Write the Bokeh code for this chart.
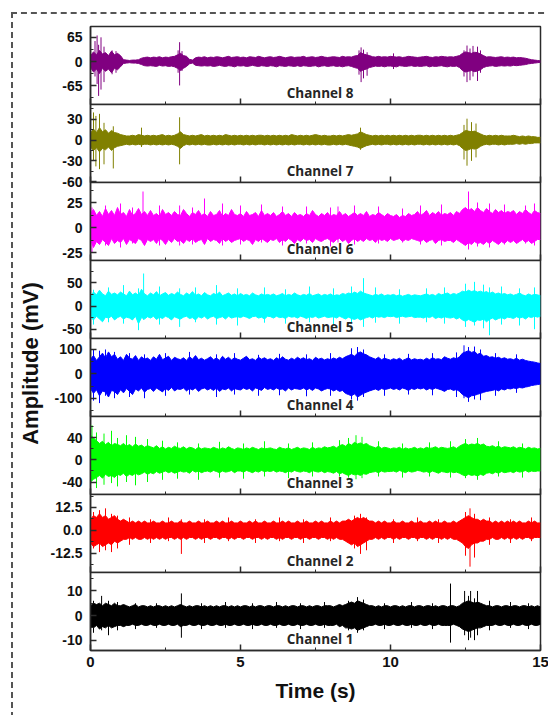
import numpy as np
from bokeh.plotting import figure
from bokeh.layouts import row, column
from bokeh.models import Range1d, FixedTicker, Label
from bokeh.embed import file_html
from bokeh.resources import INLINE

# time grid of the read envelopes (0.1 s bins)
time_s = np.round(np.arange(0, 151) * 0.1, 1)

# ---------------- Channel 8 ----------------
ch8_hi = [16, 26, 18, 30, 20, 24, 16, 28, 18, 22,
          16, 5, 4, 3, 4, 4, 5, 9, 11, 12,
          10, 12, 11, 13, 10, 12, 11, 13, 14, 18,
          22, 16, 14, 6, 4, 10, 12, 11, 13, 10,
          12, 11, 13, 12, 10, 12, 14, 11, 12, 13,
          11, 12, 10, 13, 12, 11, 14, 12, 10, 12,
          13, 11, 12, 14, 12, 10, 12, 13, 11, 12,
          12, 14, 11, 12, 13, 11, 12, 14, 12, 11,
          12, 13, 12, 11, 14, 12, 13, 12, 15, 16,
          24, 20, 18, 16, 13, 12, 14, 12, 13, 12,
          14, 13, 12, 13, 11, 12, 14, 13, 12, 11,
          12, 13, 14, 12, 11, 13, 12, 14, 13, 12,
          13, 12, 14, 16, 22, 26, 24, 22, 25, 24,
          20, 16, 12, 13, 12, 11, 12, 13, 11, 12,
          11, 12, 10, 11, 10, 9, 7, 5, 4, 3,
          2]
ch8_lo = [-16, -28, -20, -32, -18, -26, -20, -30, -18, -22,
          -14, -5, -4, -3, -4, -4, -5, -8, -11, -12,
          -11, -12, -13, -10, -12, -11, -13, -12, -14, -18,
          -24, -18, -13, -6, -4, -10, -11, -12, -11, -12,
          -11, -13, -12, -10, -12, -13, -11, -12, -14, -11,
          -12, -11, -13, -12, -10, -12, -13, -11, -12, -13,
          -11, -12, -14, -11, -12, -13, -11, -12, -13, -11,
          -13, -11, -12, -13, -12, -11, -14, -12, -11, -13,
          -12, -11, -13, -12, -14, -12, -11, -13, -16, -18,
          -26, -22, -20, -16, -14, -12, -13, -12, -14, -12,
          -12, -13, -14, -11, -12, -13, -12, -11, -13, -12,
          -13, -12, -11, -14, -12, -13, -12, -11, -13, -14,
          -12, -13, -12, -16, -24, -28, -26, -24, -27, -25,
          -22, -16, -13, -12, -11, -13, -12, -11, -12, -11,
          -12, -10, -11, -10, -9, -8, -6, -5, -4, -3,
          -2]
ch8_spike_t = [0.15, 0.22, 0.27, 0.35, 0.45, 0.72, 0.85, 2.92, 2.97, 3.05,
               8.95, 9.02, 9.1, 9.22, 10.1, 12.45, 12.55, 12.65, 12.75, 12.9, 13.0]
ch8_spike_top = [55, 70, 45, 65, 40, 30, 28, 30, 52, 28,
                 30, 38, 32, 25, 22, 30, 43, 35, 42, 40, 30]
ch8_spike_bot = [-40, -60, -92, -75, -55, -34, -30, -30, -64, -25,
                 -35, -55, -45, -38, -20, -40, -55, -50, -40, -52, -30]

# ---------------- Channel 7 ----------------
ch7_hi = [10, 16, 11, 18, 12, 15, 10, 14, 11, 10,
          8, 7, 6, 6, 7, 6, 8, 7, 6, 7,
          6, 7, 6, 7, 8, 6, 7, 6, 7, 9,
          12, 8, 7, 6, 7, 6, 7, 8, 6, 7,
          6, 7, 6, 7, 6, 8, 7, 6, 7, 6,
          7, 6, 7, 6, 7, 6, 7, 7, 6, 7,
          6, 7, 6, 7, 6, 7, 6, 8, 7, 6,
          7, 6, 7, 6, 7, 8, 7, 6, 7, 6,
          6, 7, 6, 7, 6, 7, 8, 7, 8, 9,
          12, 10, 8, 7, 6, 7, 6, 7, 6, 7,
          6, 7, 6, 7, 6, 7, 6, 7, 6, 7,
          7, 6, 7, 6, 7, 6, 7, 6, 7, 6,
          7, 6, 7, 8, 11, 14, 13, 12, 13, 11,
          9, 7, 6, 7, 6, 7, 6, 7, 6, 6,
          6, 7, 6, 5, 6, 5, 6, 5, 5, 4,
          4]
ch7_lo = [-10, -15, -11, -17, -12, -14, -10, -15, -11, -9,
          -8, -7, -6, -7, -6, -7, -6, -7, -6, -6,
          -7, -6, -7, -6, -7, -6, -7, -6, -7, -9,
          -12, -8, -6, -7, -6, -7, -6, -7, -6, -7,
          -7, -6, -7, -6, -7, -6, -7, -6, -7, -6,
          -6, -7, -6, -7, -6, -7, -6, -6, -7, -6,
          -7, -6, -7, -6, -7, -6, -7, -6, -7, -6,
          -6, -7, -6, -7, -6, -7, -6, -7, -6, -7,
          -7, -6, -7, -6, -7, -6, -7, -8, -9, -10,
          -12, -10, -8, -7, -6, -7, -6, -7, -6, -6,
          -7, -6, -7, -6, -7, -6, -7, -6, -7, -6,
          -6, -7, -6, -7, -6, -7, -6, -7, -6, -7,
          -6, -7, -6, -8, -12, -15, -14, -12, -13, -12,
          -9, -7, -6, -7, -6, -6, -7, -6, -7, -6,
          -6, -6, -5, -6, -5, -6, -5, -5, -4, -4,
          -4]
ch7_spike_t = [0.1, 0.18, 0.3, 0.45, 0.76, 1.7, 2.97, 9.0, 12.45, 12.55, 12.7, 12.85]
ch7_spike_top = [40, 35, 38, 25, 20, 18, 33, 18, 22, 31, 26, 24]
ch7_spike_bot = [-30, -38, -42, -35, -41, -10, -35, -14, -28, -37, -30, -25]

# ---------------- Channel 6 ----------------
ch6_hi = [14, 18, 12, 16, 11, 19, 13, 17, 12, 20,
          13, 15, 11, 18, 12, 14, 19, 13, 16, 12,
          17, 12, 14, 11, 18, 13, 15, 12, 16, 13,
          12, 18, 14, 11, 15, 13, 17, 12, 14, 11,
          16, 12, 13, 17, 11, 14, 12, 18, 13, 12,
          14, 11, 16, 12, 13, 15, 11, 17, 12, 14,
          12, 15, 11, 13, 16, 12, 14, 11, 15, 12,
          13, 11, 14, 12, 17, 13, 11, 14, 12, 15,
          11, 13, 12, 16, 12, 14, 11, 13, 15, 12,
          14, 12, 16, 11, 13, 12, 15, 13, 11, 14,
          12, 11, 13, 10, 12, 11, 14, 12, 13, 16,
          12, 14, 17, 12, 15, 13, 16, 12, 14, 13,
          15, 12, 16, 14, 18, 20, 17, 19, 16, 20,
          17, 15, 19, 16, 14, 18, 15, 17, 14, 16,
          15, 17, 13, 16, 14, 18, 15, 13, 17, 15,
          14]
ch6_lo = [-12, -20, -14, -17, -12, -15, -18, -11, -16, -13,
          -15, -11, -17, -12, -14, -16, -11, -13, -18, -12,
          -14, -12, -16, -11, -13, -17, -12, -15, -11, -14,
          -13, -16, -12, -14, -11, -15, -13, -12, -17, -11,
          -14, -12, -13, -16, -11, -14, -12, -15, -13, -12,
          -11, -14, -12, -13, -17, -12, -14, -11, -13, -15,
          -12, -13, -11, -15, -12, -14, -11, -13, -16, -12,
          -14, -11, -13, -12, -15, -11, -13, -14, -12, -11,
          -13, -15, -12, -11, -14, -12, -16, -13, -11, -14,
          -12, -14, -11, -13, -12, -15, -11, -13, -12, -14,
          -11, -13, -12, -11, -14, -12, -13, -11, -12, -13,
          -14, -12, -15, -13, -12, -16, -13, -12, -14, -13,
          -13, -15, -12, -14, -16, -18, -15, -17, -14, -16,
          -15, -17, -14, -16, -13, -15, -17, -14, -16, -13,
          -15, -13, -16, -14, -12, -15, -13, -16, -14, -12,
          -12]
ch6_spike_t = [0.05, 0.5, 1.0, 1.4, 1.75, 2.3, 2.97, 3.4, 3.8, 4.4, 5.0, 5.7, 6.4,
               7.2, 8.0, 8.25, 8.8, 9.6, 10.4, 11.0, 11.7, 12.6, 12.9, 13.3, 13.8, 14.5, 14.8]
ch6_spike_top = [20, 22, 24, 20, 36, 22, 22, 20, 29, 24, 22, 23, 21,
                 21, 20, 21, 22, 21, 19, 22, 23, 36, 25, 24, 23, 22, 24]
ch6_spike_bot = [-25, -18, -20, -16, -15, -18, -18, -17, -16, -18, -17, -15, -18,
                 -16, -19, -15, -17, -16, -15, -17, -18, -22, -19, -20, -17, -16, -18]

# ---------------- Channel 5 ----------------
ch5_hi = [22, 30, 24, 34, 26, 22, 32, 25, 28, 24,
          30, 26, 22, 32, 24, 28, 23, 36, 26, 22,
          28, 24, 31, 22, 26, 29, 23, 27, 24, 30,
          25, 22, 28, 24, 31, 23, 26, 22, 29, 24,
          22, 27, 24, 30, 22, 25, 28, 23, 26, 22,
          27, 23, 25, 22, 28, 24, 22, 26, 23, 25,
          23, 26, 22, 24, 27, 22, 25, 23, 28, 24,
          22, 25, 23, 27, 22, 24, 26, 22, 25, 23,
          26, 22, 24, 23, 27, 25, 28, 26, 30, 27,
          32, 28, 26, 24, 22, 25, 23, 26, 22, 24,
          23, 25, 22, 24, 21, 23, 25, 22, 24, 23,
          22, 24, 26, 23, 25, 22, 27, 24, 26, 28,
          24, 27, 25, 28, 32, 30, 34, 31, 33, 30,
          32, 29, 31, 27, 30, 26, 28, 25, 27, 24,
          26, 23, 25, 28, 24, 22, 26, 23, 25, 24,
          22]
ch5_lo = [-24, -30, -22, -28, -34, -24, -26, -22, -30, -25,
          -22, -28, -24, -26, -30, -22, -38, -25, -28, -23,
          -26, -22, -29, -24, -27, -22, -25, -30, -23, -26,
          -28, -24, -22, -27, -25, -30, -23, -26, -22, -28,
          -24, -22, -27, -25, -23, -28, -22, -26, -24, -23,
          -25, -22, -24, -27, -23, -22, -26, -24, -28, -22,
          -23, -26, -22, -25, -24, -27, -22, -24, -23, -26,
          -22, -24, -27, -23, -25, -22, -26, -24, -22, -25,
          -24, -23, -26, -22, -25, -28, -24, -27, -29, -26,
          -30, -27, -25, -23, -26, -22, -24, -23, -25, -22,
          -23, -22, -25, -23, -22, -24, -23, -22, -25, -24,
          -24, -26, -23, -25, -22, -27, -24, -26, -23, -25,
          -26, -24, -28, -25, -30, -33, -29, -32, -35, -30,
          -31, -28, -34, -29, -26, -30, -27, -25, -28, -24,
          -25, -27, -23, -26, -24, -28, -23, -25, -22, -24,
          -22]
ch5_spike_t = [0.1, 0.6, 1.1, 1.6, 1.77, 2.3, 2.97, 3.5, 4.2, 4.9, 5.8, 6.5, 7.3, 8.1,
               8.7, 9.1, 9.5, 10.3, 11.2, 11.8, 12.5, 12.8, 13.1, 13.3, 13.7, 14.3, 14.8]
ch5_spike_top = [35, 40, 45, 38, 70, 42, 38, 40, 45, 38, 40, 36, 42, 38,
                 42, 60, 40, 36, 38, 40, 48, 52, 46, 40, 42, 38, 40]
ch5_spike_bot = [-40, -35, -38, -52, -30, -40, -45, -35, -40, -42, -36, -38, -35, -40,
                 -38, -45, -36, -38, -35, -38, -45, -42, -48, -63, -40, -42, -50]

# ---------------- Channel 4 ----------------
ch4_hi = [60, 75, 55, 70, 85, 65, 90, 70, 80, 60,
          70, 55, 80, 65, 60, 75, 55, 70, 60, 65,
          55, 70, 60, 80, 58, 65, 72, 55, 68, 62,
          58, 66, 55, 70, 60, 75, 58, 64, 56, 62,
          70, 58, 65, 55, 72, 60, 68, 57, 66, 60,
          56, 64, 72, 58, 62, 55, 68, 60, 66, 58,
          62, 55, 66, 58, 70, 60, 56, 64, 58, 68,
          60, 66, 58, 62, 55, 68, 60, 64, 57, 62,
          58, 65, 60, 68, 62, 70, 75, 80, 72, 85,
          90, 82, 78, 70, 65, 60, 68, 58, 64, 60,
          56, 62, 58, 64, 55, 60, 66, 57, 62, 58,
          60, 56, 64, 58, 66, 60, 62, 58, 70, 64,
          60, 66, 62, 70, 85, 90, 95, 88, 92, 80,
          85, 72, 75, 68, 70, 64, 68, 62, 66, 60,
          62, 58, 64, 56, 60, 55, 52, 50, 48, 45,
          42]
ch4_lo = [-60, -80, -65, -90, -70, -75, -95, -68, -72, -85,
          -65, -78, -60, -72, -85, -62, -70, -58, -75, -64,
          -60, -72, -58, -66, -74, -60, -68, -56, -70, -62,
          -64, -58, -70, -60, -66, -58, -72, -62, -58, -66,
          -60, -68, -58, -72, -62, -65, -58, -70, -60, -64,
          -66, -58, -64, -60, -70, -58, -62, -68, -56, -64,
          -60, -66, -58, -64, -62, -70, -58, -66, -60, -62,
          -64, -58, -66, -60, -68, -58, -62, -70, -64, -60,
          -62, -70, -64, -72, -68, -80, -85, -90, -82, -95,
          -88, -80, -75, -70, -66, -62, -68, -60, -64, -62,
          -58, -64, -60, -66, -58, -62, -68, -60, -64, -58,
          -62, -58, -66, -60, -64, -58, -62, -66, -72, -64,
          -62, -68, -64, -72, -85, -92, -98, -90, -88, -84,
          -80, -76, -72, -70, -68, -64, -70, -62, -66, -60,
          -62, -58, -60, -56, -58, -54, -52, -48, -46, -44,
          -42]
ch4_spike_t = [0.1, 0.3, 0.5, 0.8, 1.3, 1.8, 2.5, 3.3, 4.2, 4.8, 5.6, 6.3, 7.2, 8.0,
               8.7, 8.9, 9.1, 9.8, 10.6, 11.4, 12.2, 12.45, 12.6, 12.8, 13.0, 13.5, 14.2]
ch4_spike_top = [100, 95, 100, 90, 85, 80, 85, 90, 80, 85, 78, 82, 80, 85,
                 105, 110, 100, 80, 82, 85, 88, 117, 110, 112, 100, 85, 80]
ch4_spike_bot = [-110, -120, -90, -100, -95, -100, -90, -85, -95, -85, -90, -88, -92, -90,
                 -105, -110, -95, -90, -85, -88, -95, -100, -115, -105, -108, -90, -78]

# ---------------- Channel 3 ----------------
ch3_hi = [45, 40, 35, 30, 34, 28, 32, 26, 30, 28,
          26, 30, 25, 28, 24, 29, 25, 27, 23, 26,
          24, 22, 26, 21, 24, 20, 23, 21, 25, 22,
          21, 24, 20, 23, 22, 19, 23, 20, 22, 21,
          20, 23, 21, 19, 22, 20, 24, 21, 19, 22,
          21, 19, 22, 20, 23, 21, 19, 22, 20, 21,
          22, 20, 19, 23, 21, 20, 22, 19, 21, 23,
          20, 22, 21, 19, 23, 20, 22, 21, 24, 22,
          23, 25, 22, 26, 28, 25, 30, 27, 32, 29,
          31, 28, 30, 26, 24, 22, 25, 21, 23, 22,
          20, 22, 21, 23, 19, 22, 20, 21, 23, 20,
          22, 20, 23, 21, 22, 24, 21, 23, 22, 21,
          22, 24, 21, 25, 28, 30, 27, 29, 28, 30,
          27, 29, 25, 24, 26, 23, 25, 22, 24, 23,
          22, 24, 21, 23, 22, 20, 23, 21, 22, 20,
          21]
ch3_lo = [-40, -35, -32, -28, -33, -26, -30, -28, -32, -26,
          -28, -24, -30, -26, -28, -24, -27, -25, -22, -26,
          -23, -25, -21, -24, -22, -20, -23, -21, -24, -22,
          -20, -22, -21, -24, -19, -22, -20, -23, -21, -20,
          -22, -19, -21, -23, -20, -22, -21, -19, -23, -20,
          -20, -22, -19, -21, -23, -20, -22, -19, -21, -20,
          -21, -19, -22, -20, -21, -23, -20, -22, -19, -21,
          -22, -20, -21, -23, -19, -21, -22, -20, -23, -21,
          -22, -24, -21, -25, -23, -26, -28, -25, -27, -26,
          -28, -25, -26, -23, -22, -21, -23, -20, -22, -21,
          -21, -20, -22, -19, -21, -23, -20, -22, -21, -19,
          -20, -22, -21, -23, -20, -22, -24, -21, -22, -23,
          -21, -23, -22, -24, -27, -29, -26, -28, -27, -29,
          -26, -28, -24, -23, -25, -22, -24, -21, -23, -22,
          -21, -23, -20, -22, -21, -19, -22, -20, -21, -20,
          -20]
ch3_spike_t = [0.05, 0.2, 0.45, 0.7, 0.9, 1.2, 1.5, 1.9, 2.4, 2.9, 3.6, 4.3, 5.1, 5.8,
               6.6, 7.4, 8.3, 8.6, 8.85, 9.05, 9.6, 10.4, 11.3, 12.0, 12.5, 12.9, 13.6, 14.4]
ch3_spike_top = [63, 50, 48, 53, 40, 45, 42, 38, 35, 32, 30, 33, 30, 34,
                 30, 32, 36, 40, 45, 42, 34, 30, 32, 34, 38, 40, 34, 30]
ch3_spike_bot = [-35, -51, -45, -42, -48, -40, -46, -40, -36, -34, -36, -32, -34, -30,
                 -33, -30, -30, -32, -35, -33, -30, -32, -30, -32, -33, -36, -30, -32]

# ---------------- Channel 2 ----------------
ch2_hi = [6, 8, 7, 9, 7, 8, 6, 7, 8, 6,
          5, 6, 5, 4, 5, 4, 5, 4, 5, 4,
          4, 5, 4, 4, 5, 4, 4, 5, 4, 4,
          5, 4, 4, 5, 4, 4, 5, 4, 4, 5,
          4, 4, 5, 4, 5, 4, 4, 5, 4, 4,
          5, 4, 4, 5, 4, 5, 4, 4, 5, 4,
          4, 5, 4, 4, 5, 4, 5, 4, 4, 5,
          4, 4, 5, 4, 4, 5, 4, 5, 4, 4,
          5, 4, 5, 4, 5, 5, 6, 5, 6, 7,
          6, 7, 6, 5, 5, 4, 5, 4, 5, 4,
          4, 5, 4, 4, 5, 4, 4, 5, 4, 4,
          5, 4, 4, 5, 4, 5, 4, 4, 5, 4,
          4, 5, 4, 5, 6, 7, 8, 7, 6, 6,
          5, 6, 5, 5, 4, 5, 4, 5, 4, 5,
          4, 5, 4, 5, 4, 4, 5, 4, 5, 4,
          4]
ch2_lo = [-7, -9, -8, -7, -9, -8, -7, -8, -6, -7,
          -6, -5, -5, -4, -5, -4, -5, -5, -4, -5,
          -4, -5, -4, -5, -4, -5, -4, -4, -5, -4,
          -5, -4, -5, -4, -4, -5, -4, -5, -4, -4,
          -5, -4, -4, -5, -4, -4, -5, -4, -5, -4,
          -4, -5, -4, -4, -5, -4, -4, -5, -4, -5,
          -4, -4, -5, -4, -5, -4, -4, -5, -4, -4,
          -5, -4, -4, -5, -4, -4, -5, -4, -4, -5,
          -4, -5, -4, -5, -5, -6, -7, -8, -7, -9,
          -8, -7, -6, -5, -5, -4, -5, -4, -5, -4,
          -4, -5, -4, -5, -4, -4, -5, -4, -4, -5,
          -4, -4, -5, -4, -5, -4, -4, -5, -4, -5,
          -4, -5, -5, -6, -7, -9, -10, -8, -7, -7,
          -6, -6, -5, -5, -4, -5, -5, -4, -5, -4,
          -5, -4, -5, -4, -5, -4, -4, -5, -4, -4,
          -4]
ch2_spike_t = [0.1, 0.3, 0.5, 0.7, 0.9, 1.3, 2.0, 2.6, 3.03, 3.8, 4.6, 5.5, 6.3, 7.1,
               8.0, 8.8, 9.0, 9.2, 10.1, 10.9, 11.6, 12.5, 12.65, 12.8, 13.3, 14.0, 14.7]
ch2_spike_top = [10, 11, 12, 9, 8, 7, 6, 7, 6, 6, 7, 6, 7, 6,
                 7, 8, 9, 7, 6, 7, 6, 10, 12, 9, 7, 6, 7]
ch2_spike_bot = [-10, -12, -11, -12, -10, -8, -7, -6, -13, -7, -6, -7, -6, -7,
                 -6, -10, -13, -11, -7, -6, -7, -14, -20, -15, -8, -7, -6]

# ---------------- Channel 1 ----------------
ch1_hi = [4, 5, 4.5, 5, 4, 5, 4.5, 4, 5, 4,
          4, 4.5, 4, 3.5, 4, 4.5, 3.5, 4, 4, 3.5,
          4, 3.5, 4, 4, 3.5, 4, 3.5, 4, 3.5, 4,
          4.5, 4, 3.5, 4, 3.5, 4, 4, 3.5, 4, 3.5,
          4, 3.5, 4, 3.5, 4, 4, 3.5, 4, 3.5, 4,
          3.5, 4, 4, 3.5, 4, 3.5, 4, 4, 3.5, 4,
          4, 3.5, 4, 4, 3.5, 4, 3.5, 4, 4, 3.5,
          4, 4, 3.5, 4, 3.5, 4, 4, 3.5, 4, 4,
          4, 3.5, 4, 4.5, 4, 4.5, 5, 5.5, 5, 6,
          5.5, 5, 4.5, 4, 4, 3.5, 4, 3.5, 4, 4,
          3.5, 4, 4, 3.5, 4, 3.5, 4, 4, 3.5, 4,
          4, 3.5, 4, 4, 3.5, 4, 3.5, 4, 4, 3.5,
          4, 4, 3.5, 4, 5, 5.5, 6, 5.5, 5, 5.5,
          5, 4.5, 4, 4, 3.5, 4, 4, 3.5, 4, 4,
          3.5, 4, 4, 3.5, 4, 4, 3.5, 4, 3.5, 4,
          3.5]
ch1_lo = [-4.5, -5, -4, -5.5, -4.5, -5, -4, -5, -4.5, -4,
          -4, -4.5, -4, -4, -3.5, -4, -4, -3.5, -4, -4,
          -3.5, -4, -4, -3.5, -4, -4, -3.5, -4, -4, -3.5,
          -4.5, -4, -4, -3.5, -4, -4, -3.5, -4, -4, -3.5,
          -4, -4, -3.5, -4, -4, -3.5, -4, -4, -3.5, -4,
          -4, -3.5, -4, -4, -3.5, -4, -4, -3.5, -4, -4,
          -3.5, -4, -4, -3.5, -4, -4, -3.5, -4, -4, -3.5,
          -4, -4, -3.5, -4, -4, -3.5, -4, -4, -3.5, -4,
          -4, -4, -3.5, -4.5, -4, -5, -5, -5.5, -5, -6,
          -5.5, -5, -4.5, -4, -4, -3.5, -4, -4, -3.5, -4,
          -4, -3.5, -4, -4, -3.5, -4, -4, -3.5, -4, -4,
          -3.5, -4, -4, -3.5, -4, -4, -3.5, -4, -4, -4,
          -4, -3.5, -4, -4.5, -5.5, -6, -6.5, -6, -5.5, -5,
          -5, -4.5, -4, -4, -4, -3.5, -4, -4, -3.5, -4,
          -4, -3.5, -4, -4, -3.5, -4, -4, -3.5, -4, -4,
          -3.5]
ch1_spike_t = [0.1, 0.37, 0.6, 0.9, 1.5, 2.2, 3.03, 3.7, 4.5, 5.4, 6.2, 7.0, 7.8, 8.6,
               8.9, 9.1, 9.8, 10.7, 11.4, 12.0, 12.47, 12.6, 12.67, 12.8, 12.9, 13.3, 14.0, 14.6]
ch1_spike_top = [6, 8, 6, 5.5, 5, 5, 9, 5, 5.5, 5, 5.5, 5, 5.5, 6,
                 7.5, 6.5, 5, 5.5, 5, 13, 10, 8, 10, 7, 10, 6, 5.5, 5]
ch1_spike_bot = [-7, -6, -8, -6, -5.5, -5, -9, -5.5, -5, -5.5, -5, -5.5, -5, -6,
                 -7, -6, -5.5, -5, -5.5, -11, -8, -10, -9, -10, -8, -6, -5, -5.5]

# ---------------- panel settings ----------------
channel_names = ["Channel 8", "Channel 7", "Channel 6", "Channel 5",
                 "Channel 4", "Channel 3", "Channel 2", "Channel 1"]
channel_colors = ["#800080", "#808000", "#ff00ff", "#00ffff",
                  "#0000ff", "#00ff00", "#ff0000", "#000000"]
channel_ranges = [(-115, 94), (-61.3, 51.5), (-33, 45), (-70, 98),
                  (-175, 145), (-62.7, 79), (-23.2, 19.6), (-14.2, 17.5)]
channel_ticks = [[-65, 0, 65], [-60, -30, 0, 30], [-25, 0, 25], [-50, 0, 50],
                 [-100, 0, 100], [-40, 0, 40], [-12.5, 0, 12.5], [-10, 0, 10]]
channel_tick_labels = [["-65", "0", "65"], ["-60", "-30", "0", "30"], ["-25", "0", "25"],
                       ["-50", "0", "50"], ["-100", "0", "100"], ["-40", "0", "40"],
                       ["-12.5", "0.0", "12.5"], ["-10", "0", "10"]]
channel_minor = [[-97.5, -32.5, 32.5], [-45, -15, 15, 45], [-12.5, 12.5, 37.5],
                 [-25, 25, 75], [-150, -50, 50], [-20, 20, 60],
                 [-18.75, -6.25, 6.25, 18.75], [-5, 5, 15]]
channel_hi = [ch8_hi, ch7_hi, ch6_hi, ch5_hi, ch4_hi, ch3_hi, ch2_hi, ch1_hi]
channel_lo = [ch8_lo, ch7_lo, ch6_lo, ch5_lo, ch4_lo, ch3_lo, ch2_lo, ch1_lo]
spike_t = [ch8_spike_t, ch7_spike_t, ch6_spike_t, ch5_spike_t,
           ch4_spike_t, ch3_spike_t, ch2_spike_t, ch1_spike_t]
spike_top = [ch8_spike_top, ch7_spike_top, ch6_spike_top, ch5_spike_top,
             ch4_spike_top, ch3_spike_top, ch2_spike_top, ch1_spike_top]
spike_bot = [ch8_spike_bot, ch7_spike_bot, ch6_spike_bot, ch5_spike_bot,
             ch4_spike_bot, ch3_spike_bot, ch2_spike_bot, ch1_spike_bot]
time_ticks = [0, 5, 10, 15]
time_tick_labels = ["0", "5", "10", "15"]
time_minor = [2.5, 7.5, 12.5]

FRAME_W, FRAME_H = 450, 78
LABEL_W = 34
LEFT, TOP, BOTTOM, RIGHT = 42, 12, 66, 12
OVERHANG = 8          # room below a panel for a tick label sitting on its lower edge
FRAME_COLOR = "#2b2b2b"
TICK_FONT = "Liberation Sans"

panels = []
n = len(channel_names)
for k in range(n):
    first, last = (k == 0), (k == n - 1)
    ylo, yhi = channel_ranges[k]
    extra_bottom = OVERHANG if (not last) else BOTTOM
    p = figure(frame_width=FRAME_W, frame_height=FRAME_H, title=None,
               x_range=Range1d(0, 15), y_range=Range1d(ylo, yhi),
               output_backend="svg", toolbar_location=None,
               min_border_left=LEFT, min_border_right=RIGHT,
               min_border_top=TOP if first else 0,
               min_border_bottom=extra_bottom,
               margin=(0 if first else -OVERHANG, 0, 0, 0),
               background_fill_color="white", border_fill_color="white",
               border_fill_alpha=1.0 if first else 0.0)
    p.xgrid.visible = False
    p.ygrid.visible = False
    p.outline_line_color = FRAME_COLOR
    p.outline_line_width = 1.5

    col = channel_colors[k]
    hi = np.array(channel_hi[k], dtype=float)
    lo = np.array(channel_lo[k], dtype=float)
    assert len(hi) == len(time_s) and len(lo) == len(time_s), (k, len(hi), len(lo))
    p.varea(x=time_s, y1=lo, y2=hi, fill_color=col)
    p.line(time_s, hi, line_color=col, line_width=1)
    p.line(time_s, lo, line_color=col, line_width=1)
    p.segment(x0=spike_t[k], y0=spike_bot[k], x1=spike_t[k], y1=spike_top[k],
              line_color=col, line_width=1)

    # axes
    xa = p.xaxis[0]
    xa.ticker = FixedTicker(ticks=time_ticks, minor_ticks=time_minor)
    xa.major_tick_in = 6
    xa.major_tick_out = 0
    xa.minor_tick_in = 3
    xa.minor_tick_out = 0
    xa.axis_line_color = FRAME_COLOR
    xa.axis_line_width = 1.5
    xa.major_tick_line_color = FRAME_COLOR
    xa.minor_tick_line_color = FRAME_COLOR
    xa.major_tick_line_width = 1.5
    if last:
        xa.major_label_overrides = {t: s for t, s in zip(time_ticks, time_tick_labels)}
        xa.major_label_text_font = TICK_FONT
        xa.major_label_text_font_style = "bold"
        xa.major_label_text_font_size = "15px"
        xa.major_label_text_color = "#111111"
        xa.major_label_standoff = 6
        xa.axis_label = "Time (s)"
        xa.axis_label_text_font = TICK_FONT
        xa.axis_label_text_font_style = "bold"
        xa.axis_label_text_font_size = "21px"
        xa.axis_label_text_color = "#111111"
        xa.axis_label_standoff = 9
    else:
        xa.major_label_overrides = {t: "" for t in time_ticks}
        xa.major_label_text_font_size = "1px"
        xa.major_label_standoff = 0

    ya = p.yaxis[0]
    ya.ticker = FixedTicker(ticks=channel_ticks[k], minor_ticks=channel_minor[k])
    ya.major_label_overrides = {t: s for t, s in zip(channel_ticks[k], channel_tick_labels[k])}
    ya.major_tick_in = 6
    ya.major_tick_out = 0
    ya.minor_tick_in = 3
    ya.minor_tick_out = 0
    ya.axis_line_color = FRAME_COLOR
    ya.axis_line_width = 1.5
    ya.major_tick_line_color = FRAME_COLOR
    ya.minor_tick_line_color = FRAME_COLOR
    ya.major_tick_line_width = 1.5
    ya.major_label_text_font = TICK_FONT
    ya.major_label_text_font_style = "bold"
    ya.major_label_text_font_size = "14px"
    ya.major_label_text_color = "#111111"
    ya.major_label_standoff = 8

    p.add_layout(Label(x=7.65, y=ylo + (yhi - ylo) * 3.0 / FRAME_H,
                       text=channel_names[k], text_align="center",
                       text_baseline="bottom", text_font="Open Sans",
                       text_font_style="bold", text_font_size="13.5px",
                       text_color="#262626"))
    panels.append(p)

TOTAL_H = TOP + FRAME_H * n + BOTTOM
lab = figure(width=LABEL_W, height=TOTAL_H, title=None, x_range=Range1d(0, LABEL_W),
             y_range=Range1d(0, TOTAL_H), x_axis_location=None, y_axis_location=None,
             output_backend="svg", toolbar_location=None, min_border=0,
             background_fill_color="white", border_fill_color="white")
lab.xgrid.visible = False
lab.ygrid.visible = False
lab.outline_line_color = None
lab.add_layout(Label(x=17, y=TOTAL_H - (363 - 14), text="Amplitude (mV)", angle=np.pi / 2,
                     text_align="center", text_baseline="middle", text_font=TICK_FONT,
                     text_font_style="bold", text_font_size="22px", text_color="#111111"))

root = row(lab, column(*panels, spacing=0), spacing=0,
           margin=(14, 0, 0, 13),
           styles={"outline": "2px dashed #555555", "background-color": "white"})

open("out.html", "w").write(file_html(root, INLINE))
